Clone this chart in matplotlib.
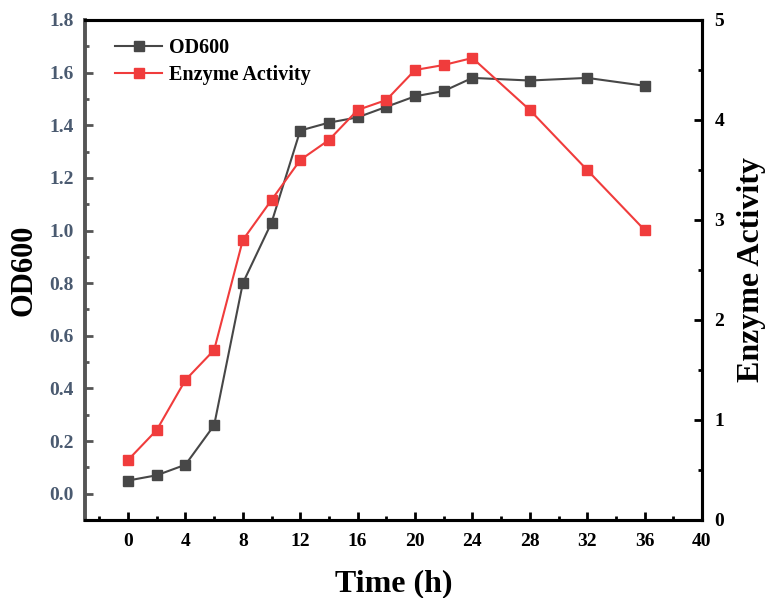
import matplotlib
matplotlib.use("Agg")
import matplotlib.pyplot as plt
from matplotlib.ticker import MultipleLocator

time_h = [0, 2, 4, 6, 8, 10, 12, 14, 16, 18, 20, 22, 24, 28, 32, 36]
od600 = [0.05, 0.07, 0.11, 0.26, 0.80, 1.03, 1.38, 1.41, 1.43, 1.47, 1.51, 1.53, 1.58, 1.57, 1.58, 1.55]
enzyme = [0.6, 0.9, 1.4, 1.7, 2.8, 3.2, 3.6, 3.8, 4.1, 4.2, 4.5, 4.55, 4.62, 4.1, 3.5, 2.9]

plt.rcParams['font.family'] = ['Liberation Serif', 'DejaVu Serif']
plt.rcParams['font.weight'] = 'bold'

fig = plt.figure(figsize=(7.67, 5.98), dpi=100)
ax = fig.add_axes([85/767, 1 - 520/598, (702 - 85)/767, (520 - 20)/598])
ax2 = ax.twinx()

gray = '#474747'
red = '#f03c3c'
l1, = ax.plot(time_h, od600, color=gray, marker='s', markersize=7, lw=1.5, label='OD600')
l2, = ax2.plot(time_h, enzyme, color=red, marker='s', markersize=7, lw=1.5, label='Enzyme Activity')

ax.set_xlim(-3, 40)
ax.set_ylim(-0.1, 1.8)
ax2.set_ylim(0, 5)

ax.xaxis.set_major_locator(MultipleLocator(4))
ax.xaxis.set_minor_locator(MultipleLocator(2))
ax.yaxis.set_major_locator(MultipleLocator(0.2))
ax.yaxis.set_minor_locator(MultipleLocator(0.1))
ax2.yaxis.set_major_locator(MultipleLocator(1))
ax2.yaxis.set_minor_locator(MultipleLocator(0.5))
ax.set_xticks(range(0, 41, 4))
ax.set_yticks([i * 0.2 for i in range(10)])
ax.set_yticklabels([f"{i*0.2:.1f}" for i in range(10)])

for s in ['top', 'bottom', 'right']:
    ax.spines[s].set_linewidth(2.2)
    ax.spines[s].set_color('black')
    ax2.spines[s].set_linewidth(2.2)
    ax2.spines[s].set_color('black')
ax.spines['left'].set_linewidth(2.8)
ax.spines['left'].set_color('#555555')
ax2.spines['left'].set_visible(False)

ax.tick_params(axis='x', which='major', direction='in', length=6, width=2, labelsize=14, pad=9, color='black')
ax.tick_params(axis='x', which='minor', direction='in', length=3, width=2, color='black')
ax.tick_params(axis='y', which='major', direction='in', length=6, width=2, labelsize=14, color='#555555', labelcolor='#4a5a70', pad=8)
ax.tick_params(axis='y', which='minor', direction='in', length=3, width=2, color='#555555')
ax2.tick_params(axis='y', which='major', direction='in', length=6, width=2, labelsize=14, pad=9)
ax2.tick_params(axis='y', which='minor', direction='in', length=3, width=2)

for lab in ax.get_xticklabels() + ax.get_yticklabels() + ax2.get_yticklabels():
    lab.set_fontweight('bold')

ax.set_xlabel('Time (h)', fontsize=23, fontweight='bold', labelpad=14)
ax.set_ylabel('OD600', fontsize=22, fontweight='bold', labelpad=8)
ax2.set_ylabel('Enzyme Activity', fontsize=23, fontweight='bold', labelpad=9)

leg = ax.legend(handles=[l1, l2], loc='upper left', frameon=False, fontsize=14.5,
                bbox_to_anchor=(0.02, 1.0), borderaxespad=0.5, handlelength=2.3,
                handletextpad=0.35, labelspacing=0.35)
for t in leg.get_texts():
    t.set_fontweight('bold')

fig.savefig('out.png', dpi=100)
